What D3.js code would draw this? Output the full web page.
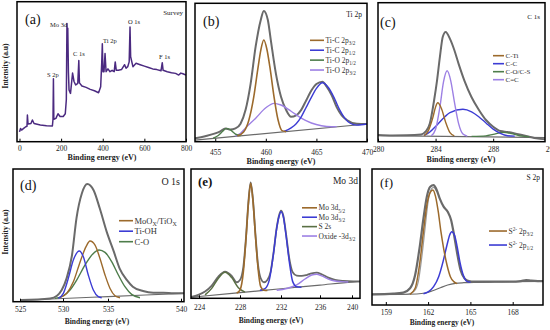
<!DOCTYPE html>
<html>
<head>
<meta charset="utf-8">
<script src="https://cdn.jsdelivr.net/npm/d3@7"></script>
<style>body{margin:0;background:#fff}</style>
</head>
<body>
<svg id="chart" width="550" height="330"></svg>
<script>
// (a) survey spectrum, [binding energy, intensity %]
var survey = [[0,7],[5,9.5],[10,8.3],[20,9.5],[30,10.7],[36,11],[38,19],[41,12.6],[55,13],[62,15.5],[70,13],[100,12],[130,11.4],[158,11.2],[161,16],[163,45],[165,16],[175,16.7],[185,20],[195,18],[210,18],[220,20],[225,30],[228,84.5],[230,74],[232,81],[235,50],[238,37],[245,34.5],[255,49],[262,43],[270,40.5],[280,41.7],[285,58],[288,42],[300,39.8],[320,38.8],[340,37.4],[360,36.4],[380,35],[390,39.3],[395,56],[398,70],[401,50],[406,50],[411,63],[416,50],[425,52],[435,50],[445,51],[455,50],[460,57],[465,51],[475,51],[490,51.5],[505,55],[512,52.5],[520,53.6],[527,57],[531,82],[534,60.7],[545,53.6],[560,56],[580,55],[600,54],[620,53],[640,52],[660,51.5],[680,50.7],[686,56.4],[690,51],[710,50],[730,49.3],[750,48.8],[765,47.6],[775,49],[785,48.5],[800,47.6]];
var surveyTicks = [0, 200, 400, 600, 800];
var surveyPeaks = ['Mo 3d', 'C 1s', 'Ti 2p', 'O 1s', 'F 1s', 'S 2p'];

// (b) Ti 2p
var tiEnv = [[453,2.4],[454,4],[455,6],[455.5,7.5],[456,9.6],[456.5,8.8],[457,9.6],[457.5,13],[458,23],[458.5,42],[459,69],[459.5,88],[459.8,94.5],[460.2,88],[460.5,73],[461,49],[461.5,32.5],[462,23],[462.5,18],[463,19],[463.5,23],[464,30],[464.5,37],[465,41.7],[465.6,43.4],[466,40],[466.5,33.7],[467,25],[467.5,19],[468,15.7],[469,13],[470,12.8]];
var tiBase = [[453,1.2],[470,12.8]];
var tiC32 = [[457.2,4.2],[457.8,7],[458.3,15],[458.8,32],[459.2,52],[459.5,66],[459.8,73.5],[460.1,67],[460.4,54],[460.8,33],[461.2,16],[461.6,8],[462,7.3]];
var tiC12 = [[461.8,7.5],[462.5,10],[463,13],[463.5,18],[464,25],[464.5,32],[465,38.5],[465.6,42.6],[466.2,39],[466.8,31],[467.3,23],[467.8,17],[468.3,13.5],[469,12],[470,12.8]];
var tiO12 = [[454.8,2.5],[455.3,4.5],[455.8,8],[456.1,9.6],[456.5,8.5],[457,5.5],[457.5,4.3]];
var tiO32 = [[457,4],[457.5,6],[458,10],[459,17],[460,24.5],[460.8,27.7],[461.5,26.5],[462.5,22],[463.5,17],[464.5,13.5],[465.5,11.5],[466.5,10.8],[467,10.9]];
var tiTicks = [455, 460, 465, 470];
var tiLabels = ['Ti-C 2p_{3/2}', 'Ti-C 2p_{1/2}', 'Ti-O 2p_{1/2}', 'Ti-O 2p_{3/2}'];

// (c) C 1s
var cEnv = [[280,4.8],[281,4.5],[282,4.6],[283,5.2],[283.3,7.2],[283.6,13],[283.9,30],[284.1,44],[284.3,61],[284.5,75.5],[284.7,79],[285,74],[285.3,66],[285.6,56],[286,44],[286.5,32],[287,23],[287.5,15.6],[288,10.8],[288.5,7.7],[289,7],[289.5,6],[290,4.8],[290.5,3.6],[291,2.4],[291.6,1.7]];
var cBase = [[280,4.3],[291.6,3.0]];
var cTi = [[283.2,4.3],[283.5,8],[283.8,17],[284,25],[284.15,28],[284.4,24],[284.7,14],[285,6.5],[285.3,4.2]];
var cCC = [[283.2,4.5],[283.6,7],[284,11],[284.5,16.5],[285,21],[285.9,23.3],[286.5,21.5],[287,18],[287.5,13.5],[288,9],[288.5,6],[289,4.3],[289.5,4]];
var cCO = [[286.5,3.8],[287.5,4.2],[288,5.3],[288.7,6.7],[289.3,5.8],[290,4],[290.5,3.6]];
var cDouble = [[283.7,4.3],[284,9],[284.3,25],[284.55,43],[284.8,51],[285.05,44],[285.3,29],[285.6,13],[285.9,5.5],[286.2,4]];
var cTicks = [280, 284, 288, 292];
var cLabels = ['C-Ti', 'C-C', 'C-O/C-S', 'C=C'];

// (d) O 1s
var oEnv = [[525.1,1.3],[528.5,2.5],[529.3,4.5],[529.85,8.8],[530.4,17.6],[531,35],[531.5,63],[532.1,81.7],[532.7,88.7],[533.4,84],[534.1,70],[534.85,52.8],[535.4,37.7],[535.8,25],[536.3,16.3],[536.7,11.3],[537.4,8],[538.1,6.8],[538.8,6.8],[539.5,6.3],[540.2,6.3]];
var oBase = [[525.1,1.0],[530,2.4],[535,3.85],[540.2,6.3]];
var oMo = [[529.65,3],[530.41,6.3],[531.15,15],[531.9,30],[532.56,41.5],[533,45.7],[533.56,42.7],[534.1,32.7],[534.67,20.1],[535.14,10],[535.48,4.5],[535.82,3]];
var oTiOH = [[529.45,2.5],[530.04,6.3],[530.59,17.6],[531.15,31.4],[531.81,38.2],[532.26,33.9],[532.81,20.1],[533.37,8.8],[533.92,3.8],[534.3,3.0]];
var oCO = [[529.07,2.5],[530.04,4.5],[530.78,8.8],[531.52,16.3],[532.44,27.6],[533.37,36.4],[534,39],[534.67,37.2],[535.25,30.2],[535.71,20.1],[536.16,11.3],[536.62,5.5],[537.19,3]];
var oTicks = [525, 530, 535, 540];
var oLabels = ['MoO_{X}/TiO_{X}', 'Ti-OH', 'C-O'];

// (e) Mo 3d
var moEnv = [[223.22,1.0],[223.93,2.6],[224.59,5.2],[225.24,9.8],[225.89,16.8],[226.54,20.6],[227.19,17.3],[227.67,12.4],[228.0,14.2],[228.33,24.5],[228.59,47.7],[228.81,73.5],[229.04,89.7],[229.27,76],[229.5,50.3],[229.76,25.8],[230.02,15.5],[230.34,12.4],[230.67,14.2],[230.99,20.6],[231.25,34],[231.58,54.6],[231.8,63.9],[232.0,67.8],[232.24,63.9],[232.51,50.3],[232.85,30.9],[233.2,20.1],[233.61,17.5],[234.12,17.3],[234.63,18],[235.15,19.3],[235.66,19.8],[236.21,18.6],[237.04,16],[237.88,14.2],[238.92,13.4],[240.17,13.1],[241.0,13.1]];
var moBase = [[223.22,0.8],[224,1.38],[228,4.38],[232,7.37],[236,10.22],[240,12.56],[241,12.9]];
var mo52 = [[227.67,4.0],[228,6.4],[228.33,20.6],[228.59,46.4],[228.81,72.2],[229.04,88.9],[229.27,74.7],[229.5,49],[229.76,23.2],[230.02,9],[230.34,6.2],[230.67,6.0]];
var mo32 = [[229.95,6.2],[230.44,7.4],[230.86,14.2],[231.25,33.5],[231.58,54.1],[231.8,63.1],[232,67],[232.24,63.1],[232.51,49],[232.85,28.4],[233.2,12.9],[233.6,9],[234.1,8.6]];
var s2s = [[224.59,2.6],[225.24,7.7],[225.89,15.5],[226.54,20.1],[227.19,16],[227.84,8.2],[228.49,4.8]];
var moOxide = [[231.58,6.2],[232.58,7.6],[233.61,10.3],[234.46,14.9],[235.15,18],[235.66,18.6],[236.21,17.3],[237.04,14.9],[237.88,13.4],[238.71,12.9],[239.54,12.6]];
var moTicks = [224, 228, 232, 236, 240];
var moLabels = ['Mo 3d_{5/2}', 'Mo 3d_{3/2}', 'S 2s', 'Oxide -3d_{3/2}'];

// (f) S 2p
var sEnv = [[158.02,7.8],[159.53,8.3],[160.24,9.1],[160.72,12.3],[161.08,22.1],[161.39,41.7],[161.67,63.7],[161.91,79.7],[162.15,87],[162.39,88.2],[162.58,85.3],[162.82,78.4],[163.1,72.3],[163.39,68.6],[163.63,62.5],[163.82,52.7],[164.06,38],[164.3,25.7],[164.58,19.6],[164.89,17.6],[165.25,17.2],[165.97,17.2],[166.68,17.2],[167.88,17.2],[168.59,17.6],[168.95,18.4],[169.31,17.9],[169.79,17.6],[170.15,17.6]];
var sFit = [[158.02,7.6],[160.5,7.9],[161.0,10],[161.3,17],[161.55,35],[161.8,58],[162.0,76],[162.25,85.5],[162.4,86.5],[162.6,83.5]];
var sBase = [[158.02,7.8],[160,7.8],[161.2,8.1],[161.79,8.8],[162.27,10.3],[162.87,12.7],[163.39,14.7],[163.94,15.9],[164.54,16.4],[165.49,16.7],[166.68,16.9],[167.88,17.2],[170.15,17.4]];
var s32 = [[160.72,7.8],[161.08,12.3],[161.39,29.4],[161.67,53.9],[161.91,73.5],[162.15,82.8],[162.34,84.6],[162.53,79.7],[162.72,68.6],[162.91,53.9],[163.1,41.7],[163.34,29.4],[163.58,20.8],[163.82,17.2],[164.06,15.7]];
var s12 = [[161.67,8.3],[162.03,9.8],[162.39,13.5],[162.75,20.8],[163.06,31.9],[163.34,44.1],[163.53,51.5],[163.68,53.9],[163.87,51.5],[164.06,42.9],[164.25,31.9],[164.49,22.1],[164.73,17.6],[165.01,16.7]];
var sTicks = [159, 162, 165, 168];
var sLabels = ['S^{2-} 2p_{3/2}', 'S^{2-} 2p_{1/2}'];

var font = "'Liberation Serif','Times New Roman',serif";
var brown = '#9c6a2c', blue = '#3c3cd4', green = '#4e7d4b', olive = '#5a7044', lilac = '#9d80e4', gray = '#6a6a6a';

var svg = d3.select('#chart');
svg.append('rect').attr('width', 550).attr('height', 330).attr('fill', '#fff');

// text with _{sub} and ^{sup} parts
function richText(sel, label, size) {
  var parts = label.split(/(_\{[^}]*\}|\^\{[^}]*\})/).filter(function(s) { return s.length; });
  var shift = 0;
  parts.forEach(function(p) {
    var t = sel.append('tspan');
    var want = 0, fs = size;
    if (p[0] === '_') { want = size * 0.3; fs = size * 0.7; p = p.slice(2, -1); }
    else if (p[0] === '^') { want = -size * 0.35; fs = size * 0.7; p = p.slice(2, -1); }
    t.attr('dy', want - shift).attr('font-size', fs).text(p);
    shift = want;
  });
}

function drawPanel(p) {
  var x = d3.scaleLinear().domain(p.xDomain).range(p.xRange);
  var y = d3.scaleLinear().domain([0, 100]).range([p.box[3], p.box[1]]);
  var g = svg.append('g');
  var clipId = 'clip' + p.tag.replace(/\W/g, '');
  g.append('clipPath').attr('id', clipId).append('rect')
    .attr('x', p.box[0]).attr('y', p.box[1]).attr('width', p.box[2] - p.box[0]).attr('height', p.box[3] - p.box[1]);
  var plot = g.append('g').attr('clip-path', 'url(#' + clipId + ')');

  p.series.forEach(function(s) {
    var line = d3.line().x(function(d) { return x(d[0]); }).y(function(d) { return y(d[1]); })
      .curve(s.linear ? d3.curveLinear : d3.curveMonotoneX);
    plot.append('path').datum(s.data).attr('d', line)
      .attr('fill', 'none').attr('stroke', s.color).attr('stroke-width', s.width)
      .attr('stroke-linejoin', 'round');
  });

  var fs = 7.5;
  var axis = g.append('g').attr('transform', 'translate(0,' + p.box[3] + ')')
    .call(d3.axisBottom(x).tickValues(p.ticks).tickSizeInner(-3).tickSizeOuter(0)
      .tickPadding(p.tickBase - p.box[3] - 0.71 * fs));
  axis.select('.domain').remove();
  axis.attr('font-family', font).attr('font-size', fs);
  axis.selectAll('line').attr('stroke', '#000');
  axis.selectAll('text').attr('fill', '#222');

  g.append('rect').attr('x', p.box[0]).attr('y', p.box[1])
    .attr('width', p.box[2] - p.box[0]).attr('height', p.box[3] - p.box[1])
    .attr('fill', 'none').attr('stroke', '#000').attr('stroke-width', 1.5);

  g.append('text').attr('x', p.title[0]).attr('y', p.title[1]).attr('text-anchor', 'middle')
    .attr('font-family', font).attr('font-size', p.title[2] || 8).attr('font-weight', 'bold').attr('fill', '#222')
    .text('Binding energy (eV)');

  g.append('text').attr('x', p.tagPos[0]).attr('y', p.tagPos[1])
    .attr('font-family', font).attr('font-size', p.tagPos[2]).attr('font-weight', p.tagPos[3] ? 'bold' : 'normal')
    .attr('fill', '#111').text(p.tag);

  g.append('text').attr('x', p.name[1]).attr('y', p.name[2]).attr('text-anchor', 'end')
    .attr('font-family', font).attr('font-size', p.name[3]).attr('fill', '#222').text(p.name[0]);

  if (p.legend) {
    var L = p.legend;
    L.labels.forEach(function(lab, i) {
      var yy = L.y + i * L.dy;
      g.append('line').attr('x1', L.x).attr('x2', L.x + L.len).attr('y1', yy - L.size * 0.33).attr('y2', yy - L.size * 0.33)
        .attr('stroke', L.colors[i]).attr('stroke-width', 1.6);
      var t = g.append('text').attr('x', L.x + L.len + 1.5).attr('y', yy)
        .attr('font-family', font).attr('font-size', L.size).attr('fill', '#333');
      richText(t, lab, L.size);
    });
  }

  if (p.ylabel) {
    g.append('text').attr('transform', 'translate(' + p.ylabel[0] + ',' + p.ylabel[1] + ') rotate(-90)')
      .attr('text-anchor', 'middle').attr('font-family', font).attr('font-size', 7.5)
      .attr('font-weight', 'bold').attr('fill', '#222').text('Intensity (a.u)');
  }
  return { x: x, y: y, g: g };
}

var pa = drawPanel({
  tag: '(a)', tagPos: [25, 24, 14], box: [17, 1.7, 186, 141.7],
  xDomain: [-12, 800], xRange: [17, 186], ticks: surveyTicks, tickBase: 151, title: [102, 160],
  name: ['Survey', 183, 15, 7], ylabel: [8, 66],
  series: [{ data: survey, color: '#4b2a80', width: 1.5, linear: true }]
});
var peakPos = [[50, 26.5], [73, 56], [103, 43], [128, 23.5], [159, 59], [47, 76.5]];
surveyPeaks.forEach(function(t, i) {
  pa.g.append('text').attr('x', peakPos[i][0]).attr('y', peakPos[i][1])
    .attr('font-family', font).attr('font-size', 6.5).attr('fill', '#222').text(t);
});

drawPanel({
  tag: '(b)', tagPos: [203, 26, 14], box: [195, 3.3, 367, 141.7],
  xDomain: [453, 470], xRange: [195, 367], ticks: tiTicks, tickBase: 155, title: [281, 164],
  name: ['Ti 2p', 362, 17, 7.5],
  series: [
    { data: tiEnv, color: gray, width: 2 },
    { data: tiBase, color: gray, width: 1.2 },
    { data: tiO32, color: lilac, width: 1.4 },
    { data: tiO12, color: green, width: 1.4 },
    { data: tiC12, color: blue, width: 1.4 },
    { data: tiC32, color: brown, width: 1.6 }
  ],
  legend: { x: 310, y: 42.8, dy: 9.9, len: 14, size: 7.5, labels: tiLabels, colors: [brown, blue, green, lilac] }
});

drawPanel({
  tag: '(c)', tagPos: [380, 27, 14], box: [378, 2.7, 545, 141.7],
  xDomain: [280, 291.6], xRange: [378, 545], ticks: cTicks, tickBase: 152, title: [461, 162],
  name: ['C 1s', 540, 19, 7],
  series: [
    { data: cEnv, color: gray, width: 2 },
    { data: cBase, color: gray, width: 1.2 },
    { data: cCO, color: green, width: 1.4 },
    { data: cCC, color: blue, width: 1.4 },
    { data: cDouble, color: lilac, width: 1.4 },
    { data: cTi, color: brown, width: 1.4 }
  ],
  legend: { x: 493, y: 58, dy: 8, len: 11, size: 7, labels: cLabels, colors: [brown, blue, green, lilac] }
});

drawPanel({
  tag: '(d)', tagPos: [20, 190, 14], box: [13, 169, 184, 301.7],
  xDomain: oTicks, xRange: [20, 63, 108, 181], ticks: oTicks, tickBase: 312.5, title: [97, 323.5, 7.5],
  name: ['O 1s', 180, 185, 10], ylabel: [8, 232],
  series: [
    { data: oEnv, color: gray, width: 2 },
    { data: oBase, color: gray, width: 1.2 },
    { data: oCO, color: green, width: 1.4 },
    { data: oMo, color: brown, width: 1.4 },
    { data: oTiOH, color: blue, width: 1.4 }
  ],
  legend: { x: 119, y: 223.5, dy: 10.5, len: 14, size: 8.5, labels: oLabels, colors: [brown, blue, green] }
});

drawPanel({
  tag: '(e)', tagPos: [198, 186, 13, true], box: [191, 169, 360, 298.3],
  xDomain: moTicks, xRange: [199, 240, 281, 320, 352], ticks: moTicks, tickBase: 310.5, title: [271, 322.5, 7.5],
  name: ['Mo 3d', 358, 184, 9.5],
  series: [
    { data: moEnv, color: gray, width: 1.8 },
    { data: moBase, color: gray, width: 1.2 },
    { data: s2s, color: olive, width: 1.5 },
    { data: moOxide, color: lilac, width: 1.4 },
    { data: mo32, color: blue, width: 1.5 },
    { data: mo52, color: brown, width: 1.6 }
  ],
  legend: { x: 302, y: 210.3, dy: 9.4, len: 15, size: 7.5, labels: moLabels, colors: [brown, blue, olive, lilac] }
});

drawPanel({
  tag: '(f)', tagPos: [380, 187, 13], box: [372, 169, 543, 305],
  xDomain: [158.02, 170.15], xRange: [372, 543], ticks: sTicks, tickBase: 314.5, title: [442, 325, 7.5],
  name: ['S 2p', 540, 180, 7.5],
  series: [
    { data: sFit, color: '#9a9a9a', width: 1.2 },
    { data: sEnv, color: gray, width: 2.2 },
    { data: sBase, color: gray, width: 1.2 },
    { data: s12, color: blue, width: 1.5 },
    { data: s32, color: brown, width: 1.5 }
  ],
  legend: { x: 489, y: 233.5, dy: 14, len: 18, size: 7.5, labels: sLabels, colors: [brown, blue] }
});
</script>
</body>
</html>
